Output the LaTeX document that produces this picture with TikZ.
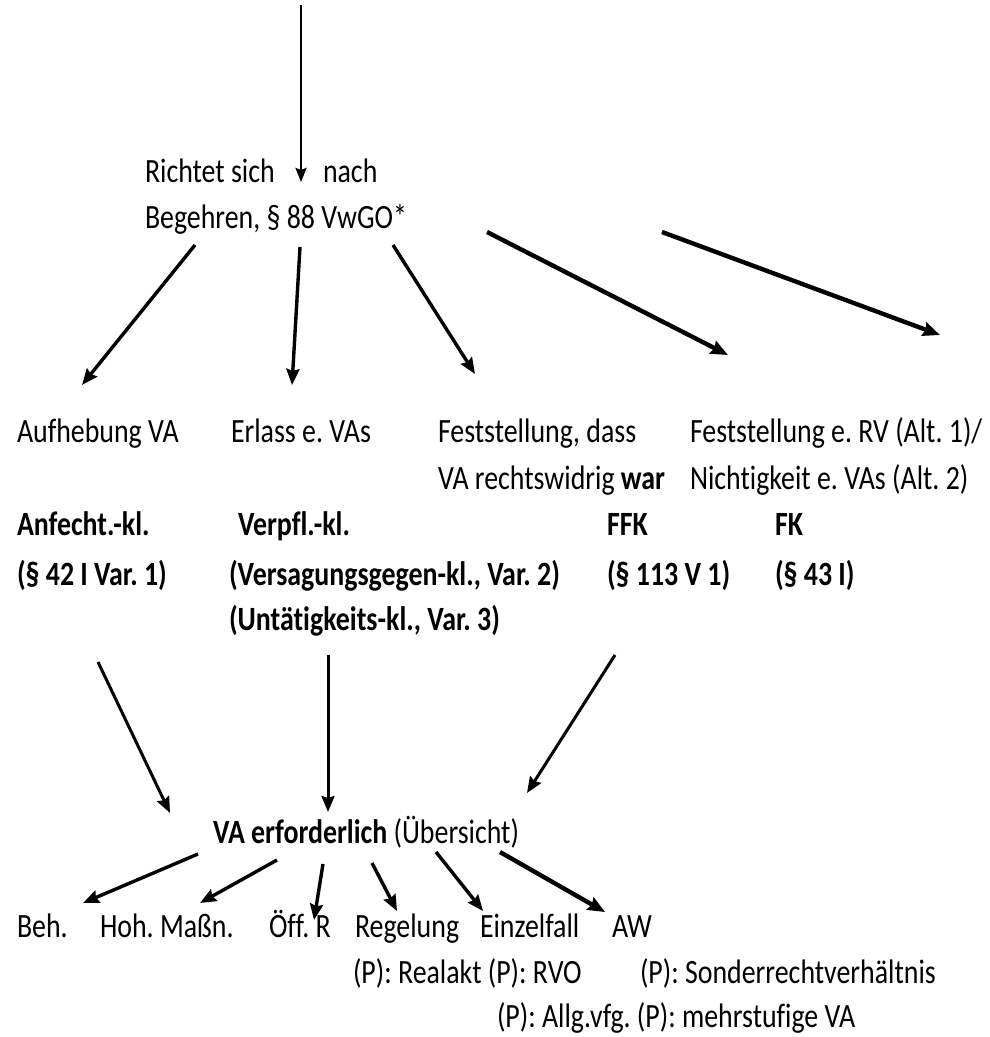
\documentclass[tikz,border=0pt]{standalone}
\usepackage{fontspec}
\setmainfont{Carlito}[FakeStretch=0.82, Ligatures=CommonOff]
\usetikzlibrary{arrows.meta}
\frenchspacing
\tikzset{
  lbl/.style={anchor=base west, inner sep=0pt, outer sep=0pt, font=\fontsize{34}{40}\selectfont},
  blbl/.style={lbl, font=\fontsize{34}{40}\selectfont\bfseries},
  arr/.style={line width=3.4pt, -{Stealth[length=16pt,width=13pt,inset=2pt]}},
  arrthick/.style={line width=4.4pt, -{Stealth[length=17pt,width=14pt,inset=2pt]}},
  arrthin/.style={line width=2.4pt, -{Stealth[length=14pt,width=11pt,inset=2pt]}}
}
\begin{document}
\begin{tikzpicture}[x=1pt,y=-1pt]
\useasboundingbox (0,0) rectangle (990,1037);
% top
\node[lbl] (rich) at (145,182) {Richtet sich};
\node[lbl] (nach) at (323,182) {nach};
\node[lbl] (beg) at (145,228) {Begehren, § 88 VwGO*};
% row of goals
\node[lbl] (aufh) at (17,442) {Aufhebung VA};
\node[lbl] (erl) at (231,442) {Erlass e. VAs};
\node[lbl] (fest1) at (438,442) {Feststellung, dass};
\node[lbl] (fest1b) at (438,489) {VA rechtswidrig \textbf{war}};
\node[lbl] (fest2) at (690,442) {Feststellung e. RV (Alt. 1)/};
\node[lbl] (nicht) at (690,489) {Nichtigkeit e. VAs (Alt. 2)};
% types of action
\node[blbl] (anf) at (17,535) {Anfecht.-kl.};
\node[blbl] (verpf) at (238,535) {Verpfl.-kl.};
\node[blbl] (ffk) at (607,535) {FFK};
\node[blbl] (fk) at (775,535) {FK};
\node[blbl] (anfp) at (17,585) {(§ 42 I Var. 1)};
\node[blbl] (vers) at (229,585) {(Versagungsgegen-kl., Var. 2)};
\node[blbl] (p113) at (607,585) {(§ 113 V 1)};
\node[blbl] (p43) at (775,585) {(§ 43 I)};
\node[blbl] (unt) at (229,630) {(Untätigkeits-kl., Var. 3)};
% VA
\node[lbl] (vaerf) at (213,843) {\textbf{VA erforderlich} (Übersicht)};
\node[lbl] (beh) at (17,937) {Beh.};
\node[lbl] (hoh) at (100,937) {Hoh. Maßn.};
\node[lbl] (oeff) at (269,937) {Öff. R};
\node[lbl] (reg) at (355,937) {Regelung};
\node[lbl] (einz) at (480,937) {Einzelfall};
\node[lbl] (aw) at (612,937) {AW};
\node[lbl] (pa) at (353,983) {(P): Realakt (P): RVO};
\node[lbl] (pb) at (640,983) {(P): Sonderrechtverhältnis};
\node[lbl] (pc) at (497,1027) {(P): Allg.vfg. (P): mehrstufige VA};
% connector end points
\coordinate (t0) at (301,5);
\coordinate (t1) at (301,182);
\coordinate (s1) at (195,245); \coordinate (e1) at (82,385);
\coordinate (s2) at (300,247); \coordinate (e2) at (292,385);
\coordinate (s3) at (393,245); \coordinate (e3) at (475,374);
\coordinate (s4) at (487,232); \coordinate (e4) at (728,355);
\coordinate (s5) at (662,232); \coordinate (e5) at (940,335);
\coordinate (ua) at (98,662);  \coordinate (va) at (170,813);
\coordinate (ub) at (328,655); \coordinate (vb) at (328,812);
\coordinate (uc) at (615,655); \coordinate (vc) at (527,793);
\coordinate (b1s) at (198,854); \coordinate (b1e) at (83,903);
\coordinate (b2s) at (277,860); \coordinate (b2e) at (200,903);
\coordinate (b3s) at (323,864); \coordinate (b3e) at (314,920);
\coordinate (b4s) at (372,863); \coordinate (b4e) at (397,911);
\coordinate (b5s) at (436,852); \coordinate (b5e) at (483,911);
\coordinate (b6s) at (500,852); \coordinate (b6e) at (605,912);
% connectors
\draw[arrthin] (t0) -- (t1);
\draw[arr] (s1) -- (e1);
\draw[arr] (s2) -- (e2);
\draw[arr] (s3) -- (e3);
\draw[arrthick] (s4) -- (e4);
\draw[arrthick] (s5) -- (e5);
\draw[arr, line width=3pt] (ua) -- (va);
\draw[arr, line width=3pt] (ub) -- (vb);
\draw[arr, line width=3pt] (uc) -- (vc);
\draw[arr] (b1s) -- (b1e);
\draw[arr] (b2s) -- (b2e);
\draw[arr] (b3s) -- (b3e);
\draw[arr] (b4s) -- (b4e);
\draw[arr] (b5s) -- (b5e);
\draw[arrthick] (b6s) -- (b6e);
\end{tikzpicture}
\end{document}
